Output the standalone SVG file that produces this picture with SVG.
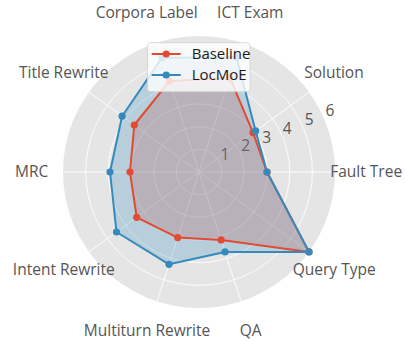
<svg xmlns="http://www.w3.org/2000/svg" width="406" height="341" viewBox="0 0 406 341">
<style>
.bg{fill:#E5E5E5}
.grid{fill:none;stroke:#FFFFFF;stroke-width:0.9}
.lbl{font-family:"Open Sans","Noto Sans",sans-serif;font-size:15.5px;fill:#555555;text-anchor:middle}
.tick{font-family:"Open Sans","Noto Sans",sans-serif;font-size:15.5px;fill:#555555;text-anchor:middle}
.leg{font-family:"Open Sans","Noto Sans",sans-serif;font-size:15px;fill:#1a1a1a}
.rfill{fill:#E24A33;fill-opacity:0.25;stroke:none}
.bfill{fill:#348ABD;fill-opacity:0.25;stroke:none}
.rline{fill:none;stroke:#E24A33;stroke-width:2;stroke-linejoin:round}
.bline{fill:none;stroke:#348ABD;stroke-width:2;stroke-linejoin:round}
.rdot{fill:#E24A33}
.bdot{fill:#348ABD}
</style>
<rect width="406" height="341" fill="#FFFFFF"/>
<g id="axes">
<circle class="bg" cx="199" cy="172" r="136"/>
<g class="grid">
<circle cx="199" cy="172" r="22.67"/>
<circle cx="199" cy="172" r="45.33"/>
<circle cx="199" cy="172" r="68"/>
<circle cx="199" cy="172" r="90.67"/>
<circle cx="199" cy="172" r="113.33"/>
<path d="M199 172L335 172M199 172L309 92.1M199 172L241 42.6M199 172L157 42.6M199 172L89 92.1M199 172L63 172M199 172L89 251.9M199 172L157 301.4M199 172L241 301.4M199 172L309 251.9"/>
</g>
<g id="rticks">
<text class="tick" x="225" y="160">1</text>
<text class="tick" x="245.7" y="150.7">2</text>
<text class="tick" x="266.7" y="142.5">3</text>
<text class="tick" x="287.3" y="134">4</text>
<text class="tick" x="309.3" y="125">5</text>
<text class="tick" x="330" y="116.3">6</text>
</g>
</g>
<g id="labels">
<text class="lbl" x="366.2" y="177">Fault Tree</text>
<text class="lbl" x="333.9" y="78">Solution</text>
<text class="lbl" x="250.3" y="18">ICT Exam</text>
<text class="lbl" x="146.7" y="18">Corpora Label</text>
<text class="lbl" x="63.7" y="78">Title Rewrite</text>
<text class="lbl" x="31.7" y="177">MRC</text>
<text class="lbl" x="63.8" y="275">Intent Rewrite</text>
<text class="lbl" x="334.2" y="275">Query Type</text>
<text class="lbl" x="147" y="336">Multiturn Rewrite</text>
<text class="lbl" x="250.7" y="336">QA</text>
</g>
<g id="connectors">
<polygon class="rfill" points="267,172 253,132.7 229.7,77.4 169.5,81.2 134.3,125 130,172 136.7,217.3 177.7,237.6 221.1,239.9 309,251.9"/>
<polygon class="bfill" points="267,172 255.6,130.9 236.4,56.9 161.9,57.9 122.1,116.2 110,172 116.5,232 169,264.3 225,251.9 309,251.9"/>
<polygon class="rline" points="267,172 253,132.7 229.7,77.4 169.5,81.2 134.3,125 130,172 136.7,217.3 177.7,237.6 221.1,239.9 309,251.9"/>
<polygon class="bline" points="267,172 255.6,130.9 236.4,56.9 161.9,57.9 122.1,116.2 110,172 116.5,232 169,264.3 225,251.9 309,251.9"/>
</g>
<g id="baseline-points">
<circle class="rdot" cx="267" cy="172" r="3.6"/>
<circle class="rdot" cx="253" cy="132.7" r="3.6"/>
<circle class="rdot" cx="229.7" cy="77.4" r="3.6"/>
<circle class="rdot" cx="169.5" cy="81.2" r="3.6"/>
<circle class="rdot" cx="134.3" cy="125" r="3.6"/>
<circle class="rdot" cx="130" cy="172" r="3.6"/>
<circle class="rdot" cx="136.7" cy="217.3" r="3.6"/>
<circle class="rdot" cx="177.7" cy="237.6" r="3.6"/>
<circle class="rdot" cx="221.1" cy="239.9" r="3.6"/>
<circle class="rdot" cx="309" cy="251.9" r="3.6"/>
</g>
<g id="locmoe-points">
<circle class="bdot" cx="267" cy="172" r="3.6"/>
<circle class="bdot" cx="255.6" cy="130.9" r="3.6"/>
<circle class="bdot" cx="236.4" cy="56.9" r="3.6"/>
<circle class="bdot" cx="161.9" cy="57.9" r="3.6"/>
<circle class="bdot" cx="122.1" cy="116.2" r="3.6"/>
<circle class="bdot" cx="110" cy="172" r="3.6"/>
<circle class="bdot" cx="116.5" cy="232" r="3.6"/>
<circle class="bdot" cx="169" cy="264.3" r="3.6"/>
<circle class="bdot" cx="225" cy="251.9" r="3.6"/>
<circle class="bdot" cx="309" cy="251.9" r="3.6"/>
</g>
<g id="legend">
<rect x="147.5" y="42.7" width="102.5" height="49" rx="3" fill="#FFFFFF" fill-opacity="0.8" stroke="#D0D0D0" stroke-width="0.8"/>
<line x1="151.7" y1="54" x2="180.7" y2="54" stroke="#E24A33" stroke-width="2"/>
<circle class="rdot" cx="166.2" cy="54" r="3.6"/>
<text class="leg" x="191.7" y="58.5">Baseline</text>
<line x1="151.7" y1="75" x2="180.7" y2="75" stroke="#348ABD" stroke-width="2"/>
<circle class="bdot" cx="166.2" cy="75" r="3.6"/>
<text class="leg" x="191.7" y="79.5">LocMoE</text>
</g>
</svg>
